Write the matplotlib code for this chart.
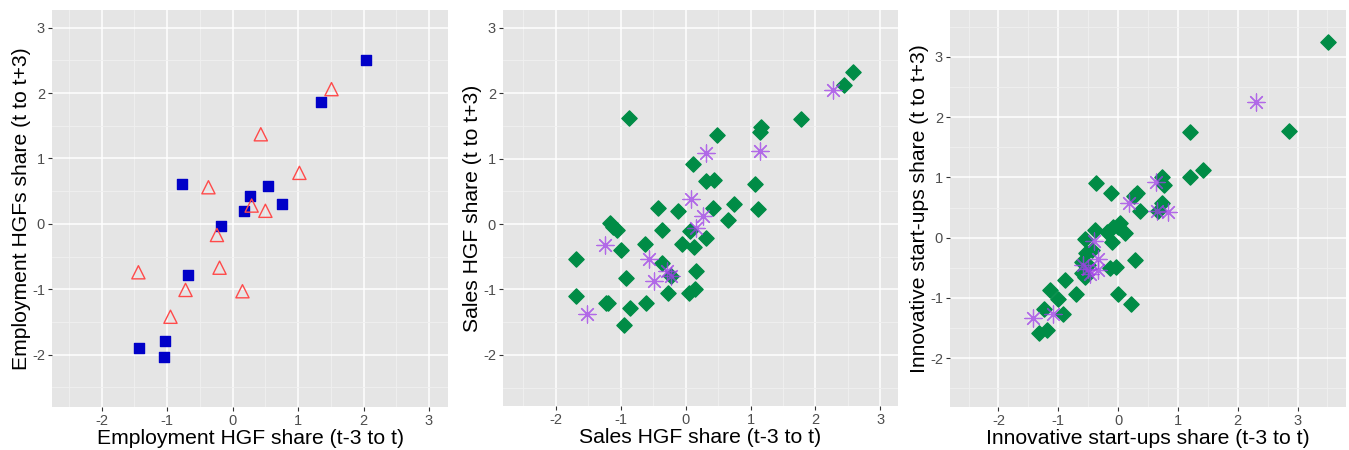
import matplotlib
matplotlib.use("Agg")
import matplotlib.pyplot as plt
from matplotlib.ticker import MultipleLocator

plt.rcParams['font.family'] = ['Liberation Sans', 'DejaVu Sans']
plt.rcParams['axes.unicode_minus'] = False

# Panel 1: employment HGF share
emp_sq_x = [2.04, 1.35, -0.77, 0.54, 0.27, 0.75, 0.18, -0.18, -0.68, -1.43, -1.04, -1.05]
emp_sq_y = [2.51, 1.87, 0.61, 0.58, 0.43, 0.31, 0.20, -0.03, -0.78, -1.90, -1.79, -2.04]
emp_tri_x = [1.51, 0.43, 1.02, -0.37, 0.29, 0.50, -0.24, -0.20, -1.44, -0.72, 0.15, -0.95]
emp_tri_y = [2.06, 1.37, 0.78, 0.56, 0.28, 0.20, -0.17, -0.67, -0.74, -1.01, -1.03, -1.42]

# Panel 2: sales HGF share
sal_dia_x = [2.58, 2.44, 1.77, -0.87, 1.16, 1.15, 0.49, 0.12, 0.32, 0.44, 1.07,
             -0.43, -0.11, 0.42, 0.75, 1.11, 0.65, -1.17, -1.12, -1.06, -0.37,
             0.07, -0.63, -0.06, 0.13, 0.32, -1.00, -1.68, -0.37, 0.16, -0.91,
             -0.23, -1.68, -0.27, 0.05, 0.14, -1.23, -1.19, -0.61, -0.86, -0.94]
sal_dia_y = [2.32, 2.12, 1.60, 1.62, 1.48, 1.40, 1.36, 0.91, 0.65, 0.67, 0.61,
             0.25, 0.20, 0.24, 0.30, 0.23, 0.06, 0.02, -0.04, -0.09, -0.09,
             -0.10, -0.30, -0.31, -0.35, -0.22, -0.39, -0.53, -0.60, -0.71, -0.83,
             -0.79, -1.10, -1.06, -1.05, -1.00, -1.20, -1.21, -1.20, -1.28, -1.55]
sal_ast_x = [2.27, 0.31, 1.14, 0.08, 0.27, 0.16, -1.24, -0.57, -0.48, -0.29, -0.23, -1.51]
sal_ast_y = [2.05, 1.08, 1.11, 0.38, 0.13, -0.06, -0.32, -0.54, -0.87, -0.71, -0.79, -1.38]

# Panel 3: innovative start-ups share
inn_dia_x = [3.51, 2.86, 1.21, 1.42, 1.21, 0.74, 0.76, -0.37, -0.12, 0.27, 0.31,
             0.37, 0.74, 0.66, 0.04, 0.00, 0.12, -0.18, -0.38, -0.55, -0.10,
             -0.08, 0.28, -0.54, -0.43, -0.60, -0.50, -0.61, -0.55, -0.13, -0.03,
             -0.88, -0.71, 0.00, 0.21, -1.13, -1.01, -1.24, -0.92, -1.33, -1.19]
inn_dia_y = [3.25, 1.77, 1.75, 1.12, 1.01, 1.00, 0.88, 0.91, 0.74, 0.69, 0.74,
             0.44, 0.57, 0.44, 0.24, 0.18, 0.08, 0.09, 0.13, -0.02, -0.07,
             0.18, -0.37, -0.25, -0.21, -0.41, -0.46, -0.59, -0.65, -0.51, -0.49,
             -0.70, -0.93, -0.93, -1.10, -0.86, -1.02, -1.19, -1.26, -1.58, -1.54]
inn_ast_x = [2.30, 0.64, 0.18, 0.65, 0.84, -0.40, -0.34, -0.59, -0.51, -0.34, -0.47, -1.08, -1.42]
inn_ast_y = [2.25, 0.93, 0.58, 0.44, 0.43, -0.06, -0.35, -0.45, -0.52, -0.53, -0.61, -1.26, -1.33]

BLUE = '#0000C8'
RED = '#FF4A4A'
GREEN = '#008C46'
PURPLE = '#A040E8'

fig = plt.figure(figsize=(13.49, 4.5), dpi=100)
W, H = 1349, 450

def make_ax(left, right, top, bottom):
    return fig.add_axes([left / W, 1 - bottom / H, (right - left) / W, (bottom - top) / H])

def style(ax, xlim, ylim, xlabel, ylabel):
    ax.set_facecolor('#E5E5E5')
    ax.set_xlim(*xlim)
    ax.set_ylim(*ylim)
    ax.xaxis.set_major_locator(MultipleLocator(1))
    ax.yaxis.set_major_locator(MultipleLocator(1))
    ax.xaxis.set_minor_locator(MultipleLocator(0.5))
    ax.yaxis.set_minor_locator(MultipleLocator(0.5))
    ax.grid(which='major', color='white', linewidth=1.1)
    ax.grid(which='minor', color='#F0F0F0', linewidth=0.6)
    ax.set_axisbelow(True)
    for s in ax.spines.values():
        s.set_visible(False)
    ax.tick_params(which='major', length=3, color='#333333', labelsize=10.5,
                   labelcolor='#4D4D4D', pad=2)
    ax.tick_params(which='minor', length=0)
    ax.set_xlabel(xlabel, fontsize=15.2, labelpad=1)
    ax.set_ylabel(ylabel, fontsize=15.2, labelpad=1)

ax1 = make_ax(52, 448, 10, 407)
style(ax1, (-2.76, 3.29), (-2.80, 3.27),
      'Employment HGF share (t-3 to t)', 'Employment HGFs share (t to t+3)')
ax1.scatter(emp_sq_x, emp_sq_y, marker='s', s=55, color=BLUE, zorder=3)
ax1.scatter(emp_tri_x, emp_tri_y, marker='^', s=90, facecolors='none',
            edgecolors=RED, linewidths=1.0, zorder=3)

ax2 = make_ax(503, 898, 10, 406)
style(ax2, (-2.81, 3.27), (-2.78, 3.27),
      'Sales HGF share (t-3 to t)', 'Sales HGF share (t to t+3)')
ax2.scatter(sal_dia_x, sal_dia_y, marker='D', s=60, color=GREEN, zorder=3)
ax2.scatter(sal_ast_x, sal_ast_y, marker=(8, 2, 0), s=150, color=PURPLE,
            alpha=0.75, linewidths=0.9, zorder=4)

ax3 = make_ax(950, 1346, 10, 407)
style(ax3, (-2.81, 3.81), (-2.81, 3.78),
      'Innovative start-ups share (t-3 to t)', 'Innovative start-ups share (t to t+3)')
ax3.scatter(inn_dia_x, inn_dia_y, marker='D', s=60, color=GREEN, zorder=3)
ax3.scatter(inn_ast_x, inn_ast_y, marker=(8, 2, 0), s=150, color=PURPLE,
            alpha=0.75, linewidths=0.9, zorder=4)

fig.savefig('out.png', dpi=100, facecolor='white')
